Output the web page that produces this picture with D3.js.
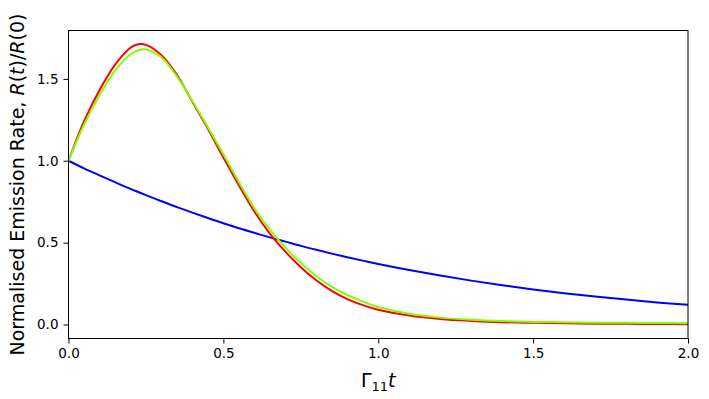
<!DOCTYPE html>
<html>
<head>
<meta charset="utf-8">
<script src="https://cdn.jsdelivr.net/npm/d3@7"></script>
<style>
  body { margin: 0; background: #fff; }
  svg { font-family: "DejaVu Sans", sans-serif; }
</style>
</head>
<body>
<div id="chart"></div>
<script>
// values
var tVals = [0, 0.05, 0.10, 0.15, 0.20, 0.225, 0.25, 0.30, 0.35, 0.40, 0.45, 0.50, 0.55, 0.60, 0.65, 0.70, 0.75,
             0.80, 0.85, 0.90, 0.95, 1.0, 1.1, 1.2, 1.3, 1.4, 1.5, 1.6, 1.7, 1.8, 1.9, 2.0];
var redVals = [1.00, 1.24, 1.43, 1.585, 1.69, 1.711, 1.708, 1.645, 1.525, 1.36, 1.195, 1.02, 0.85, 0.69, 0.555, 0.445, 0.35,
               0.27, 0.205, 0.155, 0.118, 0.09, 0.055, 0.034, 0.022, 0.014, 0.010, 0.007, 0.005, 0.004, 0.003, 0.002];
var greenVals = [1.00, 1.22, 1.40, 1.55, 1.65, 1.675, 1.680, 1.632, 1.515, 1.365, 1.205, 1.04, 0.87, 0.71, 0.58, 0.47, 0.375,
                 0.295, 0.23, 0.18, 0.14, 0.107, 0.065, 0.042, 0.029, 0.021, 0.016, 0.013, 0.011, 0.010, 0.009, 0.008];
var blueVals = [1.00, 0.954, 0.911, 0.869, 0.828, 0.809, 0.790, 0.753, 0.717, 0.683, 0.650, 0.618, 0.588, 0.560, 0.532, 0.506, 0.480,
                0.456, 0.433, 0.411, 0.390, 0.370, 0.333, 0.299, 0.268, 0.240, 0.214, 0.191, 0.171, 0.152, 0.135, 0.120];
var xTicks = [0, 0.5, 1.0, 1.5, 2.0];
var yTicks = [0, 0.5, 1.0, 1.5];

var W = 709, H = 399;
var margin = {top: 30.5, right: 21, bottom: 60.5, left: 68.5};
var width = W - margin.left - margin.right,
    height = H - margin.top - margin.bottom;

var svg = d3.select("#chart")
  .append("svg")
    .attr("width", W)
    .attr("height", H);

var g = svg.append("g")
    .attr("transform", "translate(" + margin.left + "," + margin.top + ")");

var x = d3.scaleLinear().domain([0, 2]).range([0, width]);
var y = d3.scaleLinear().domain([-0.0855, 1.7955]).range([height, 0]);

var line = d3.line()
    .x(function(d) { return x(d[0]); })
    .y(function(d) { return y(d[1]); })
    .curve(d3.curveCatmullRom.alpha(0.5));

function pairs(vals) { return tVals.map(function(t, i) { return [t, vals[i]]; }); }

svg.append("clipPath").attr("id", "clip")
  .append("rect").attr("width", width).attr("height", height);

var plot = g.append("g").attr("clip-path", "url(#clip)");
var series = [
  {vals: blueVals, color: "#0000ff"},
  {vals: redVals, color: "#ff0000"},
  {vals: greenVals, color: "#7fff00"}
];
series.forEach(function(s) {
  plot.append("path")
    .attr("d", line(pairs(s.vals)))
    .attr("fill", "none")
    .attr("stroke", s.color)
    .attr("stroke-width", 2);
});

// axes
var xAxis = g.append("g")
    .attr("transform", "translate(0," + height + ")")
    .call(d3.axisBottom(x).tickValues(xTicks).tickFormat(d3.format(".1f")).tickSizeOuter(0).tickSize(5).tickPadding(5));
var yAxis = g.append("g")
    .call(d3.axisLeft(y).tickValues(yTicks).tickFormat(d3.format(".1f")).tickSizeOuter(0).tickSize(5).tickPadding(5));
[xAxis, yAxis].forEach(function(a) {
  a.select(".domain").remove();
  a.selectAll("text").attr("font-size", 13.5).attr("fill", "#000").attr("font-family", "DejaVu Sans");
  a.selectAll("line").attr("stroke", "#000").attr("stroke-width", 1);
});

g.append("rect")
    .attr("width", width)
    .attr("height", height)
    .attr("fill", "none")
    .attr("stroke", "#000")
    .attr("stroke-width", 1);

// labels
var xl = svg.append("text")
    .attr("x", margin.left + width / 2)
    .attr("y", 387)
    .attr("text-anchor", "middle")
    .attr("font-size", 19);
xl.append("tspan").text("Γ");
xl.append("tspan").text("11").attr("font-size", 13).attr("dy", 4);
xl.append("tspan").text("t").attr("font-style", "italic").attr("dy", -4);

var yl = svg.append("text")
    .attr("transform", "translate(24," + (margin.top + height / 2) + ") rotate(-90)")
    .attr("text-anchor", "middle")
    .attr("font-size", 19);
yl.append("tspan").text("Normalised Emission Rate, ");
yl.append("tspan").text("R").attr("font-style", "italic");
yl.append("tspan").text("(");
yl.append("tspan").text("t").attr("font-style", "italic");
yl.append("tspan").text(")/");
yl.append("tspan").text("R").attr("font-style", "italic");
yl.append("tspan").text("(0)");
</script>
</body>
</html>
